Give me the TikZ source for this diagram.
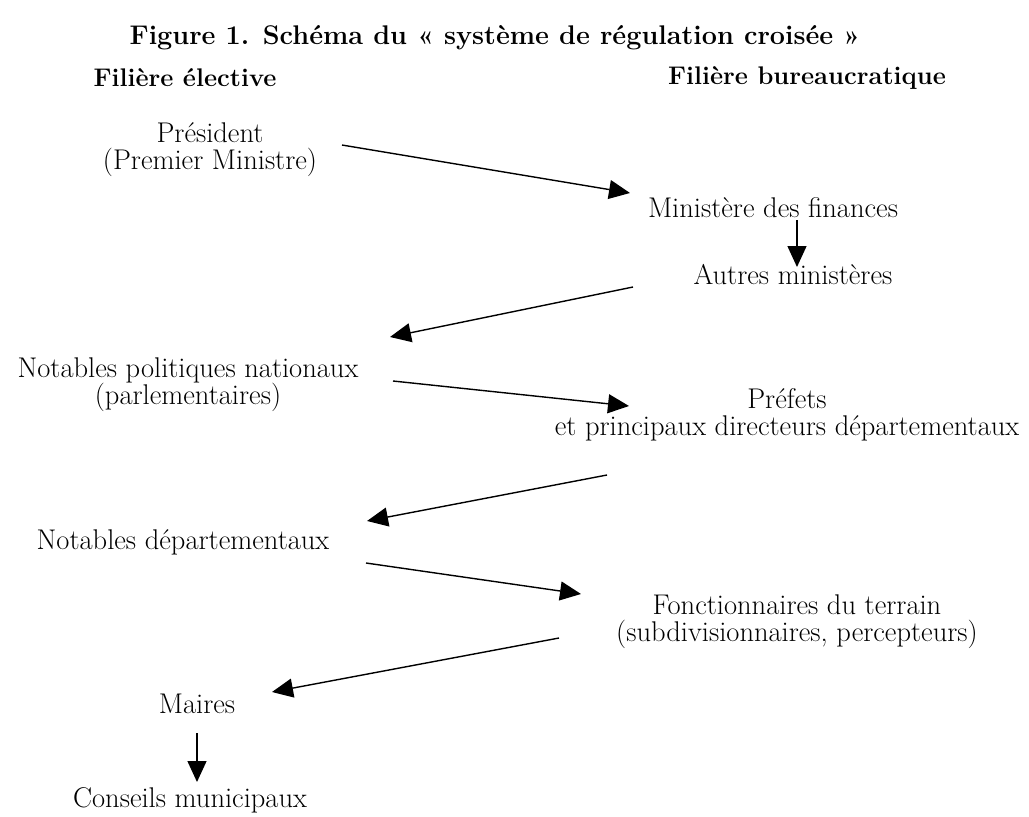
\documentclass[tikz,border=0pt]{standalone}
\usepackage{fontspec}
\usetikzlibrary{arrows.meta}
\begin{document}
\begin{tikzpicture}[x=1pt,y=-1pt,
  lbl/.style={inner sep=0pt,align=center,font=\fontsize{28.5}{27}\selectfont},
  ttl/.style={inner sep=0pt,font=\bfseries\fontsize{27}{30}\selectfont},
  hdr/.style={inner sep=0pt,font=\bfseries\fontsize{25.5}{28}\selectfont},
  arr/.style={line width=1.4pt,-{Triangle[length=21pt,width=19pt]}}]
\useasboundingbox (0,0) rectangle (1029,817);
\node[ttl] (title) at (495,38) {Figure 1. Schéma du « système de régulation croisée »};
\node[hdr] (h1) at (185,78) {Filière élective};
\node[hdr] (h2) at (807,78) {Filière bureaucratique};
\node[lbl] (pres) at (210,150) {Président\\(Premier Ministre)};
\node[lbl] (minfin) at (773,208) {Ministère des finances};
\node[lbl] (autres) at (793,275) {Autres ministères};
\node[lbl] (npn) at (188,385) {Notables politiques nationaux\\(parlementaires)};
\node[lbl] (pref) at (787,415) {Préfets\\et principaux directeurs départementaux};
\node[lbl] (nd) at (183,542) {Notables départementaux};
\node[lbl] (fonc) at (797,622) {Fonctionnaires du terrain\\(subdivisionnaires, percepteurs)};
\node[lbl] (maires) at (197,704) {Maires};
\node[lbl] (cm) at (190,800) {Conseils municipaux};
\coordinate (a1s) at (342,145); \coordinate (a1e) at (630,193);
\coordinate (a0s) at (797,220); \coordinate (a0e) at (797,267);
\coordinate (a2s) at (633,287); \coordinate (a2e) at (390,337);
\coordinate (a3s) at (393,381); \coordinate (a3e) at (629,406);
\coordinate (a4s) at (607,475); \coordinate (a4e) at (367,521);
\coordinate (a5s) at (366,563); \coordinate (a5e) at (581,594);
\coordinate (a6s) at (559,638); \coordinate (a6e) at (272,692);
\coordinate (a7s) at (197,733); \coordinate (a7e) at (197,782);
\draw[arr] (a1s) -- (a1e);
\draw[arr] (a0s) -- (a0e);
\draw[arr] (a2s) -- (a2e);
\draw[arr] (a3s) -- (a3e);
\draw[arr] (a4s) -- (a4e);
\draw[arr] (a5s) -- (a5e);
\draw[arr] (a6s) -- (a6e);
\draw[arr] (a7s) -- (a7e);
\end{tikzpicture}
\end{document}
